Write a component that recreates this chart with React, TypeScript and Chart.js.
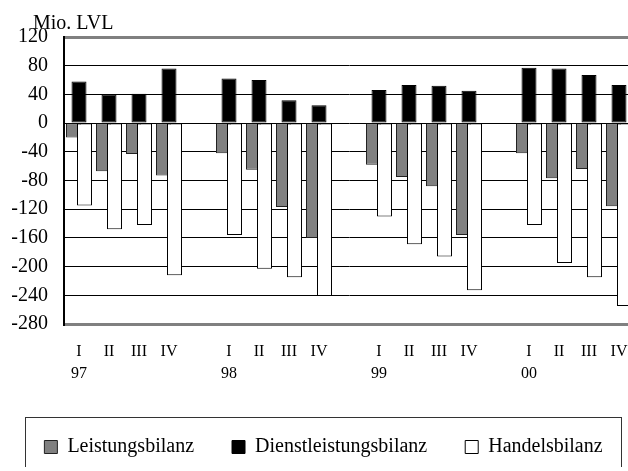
import React, { useEffect, useRef } from 'react';
import { Chart, registerables } from 'chart.js';

Chart.register(...registerables);

const years = ['97', '98', '99', '00'];
const quarters = ['I', 'II', 'III', 'IV'];
const leistungsbilanz = [-20, -67, -43, -73, -42, -65, -117, -160, -58, -75, -88, -156, -42, -77, -64, -116];
const dienstleistungsbilanz = [58, 40, 41, 76, 62, 60, 32, 25, 46, 53, 52, 45, 77, 76, 67, 53];
const handelsbilanz = [-115, -148, -142, -212, -156, -203, -215, -241, -130, -169, -186, -233, -142, -195, -215, -255];
const yMin = -280;
const yMax = 120;
const yStep = 40;
const unitLabel = 'Mio. LVL';
const seriesNames = ['Leistungsbilanz', 'Dienstleistungsbilanz', 'Handelsbilanz'];

const FONT = "'Liberation Serif', 'Times New Roman', serif";

function withGaps<T>(values: T[], gap: T): T[] {
  const out: T[] = [];
  years.forEach((_, yi) => {
    quarters.forEach((_, qi) => out.push(values[yi * quarters.length + qi]));
    if (yi < years.length - 1) out.push(gap);
  });
  return out;
}

const quarterLabels: (string | string[])[] = [];
years.forEach((y) => quarters.forEach((q, qi) => quarterLabels.push(qi === 0 ? [q, y] : q)));
const labels = withGaps<string | string[]>(quarterLabels, '');

// Draw datasets in index order so later series (white bars) lie on top of earlier ones
const drawOrderPlugin = {
  id: 'drawOrder',
  beforeDatasetDraw() {
    return false;
  },
  afterDatasetsDraw(chart: any) {
    const ctx = chart.ctx;
    const area = chart.chartArea;
    for (let i = 0; i < chart.data.datasets.length; i++) {
      const meta = chart.getDatasetMeta(i);
      if (!meta.visible) continue;
      ctx.save();
      ctx.beginPath();
      ctx.rect(area.left, area.top - 2, area.right - area.left, area.bottom - area.top + 4);
      ctx.clip();
      meta.controller.draw();
      ctx.restore();
    }
  },
};

const decorPlugin = {
  id: 'decor',
  afterDraw(chart: any) {
    const ctx = chart.ctx;
    ctx.save();
    ctx.font = `20px ${FONT}`;
    ctx.fillStyle = '#000';
    ctx.textBaseline = 'alphabetic';
    ctx.textAlign = 'left';
    ctx.fillText(unitLabel, 33, 29);
    ctx.strokeStyle = '#333';
    ctx.lineWidth = 1;
    ctx.strokeRect(25.5, 417.5, 596, 120);
    ctx.restore();
  },
};

export default function App() {
  const ref = useRef<HTMLCanvasElement | null>(null);
  useEffect(() => {
    if (!ref.current) return;
    const chart = new Chart(ref.current, {
      type: 'bar',
      data: {
        labels,
        datasets: [
          {
            label: seriesNames[0],
            data: withGaps<number | null>(leistungsbilanz, null),
            backgroundColor: '#808080',
            borderColor: '#222',
            borderWidth: 1,
            borderSkipped: false,
          },
          {
            label: seriesNames[1],
            data: withGaps<number | null>(dienstleistungsbilanz, null),
            backgroundColor: '#000',
            borderColor: '#000',
            borderWidth: 1,
            borderSkipped: false,
          },
          {
            label: seriesNames[2],
            data: withGaps<number | null>(handelsbilanz, null),
            backgroundColor: '#fff',
            borderColor: '#000',
            borderWidth: 1,
            borderSkipped: false,
          },
        ],
      },
      options: {
        responsive: false,
        animation: false,
        devicePixelRatio: 1,
        layout: { padding: { left: 0, top: 37, right: 0, bottom: 0 } },
        datasets: {
          bar: { categoryPercentage: 0.55, barPercentage: 2.727 },
        },
        scales: {
          x: {
            grid: { display: false, drawTicks: false },
            border: { display: true, color: '#808080', width: 3 },
            ticks: {
              autoSkip: false,
              maxRotation: 0,
              padding: 17,
              color: '#000',
              font: { family: FONT, size: 16, lineHeight: 1.375 },
            },
            afterFit: (scale: any) => {
              scale.height = 75;
            },
          },
          y: {
            min: yMin,
            max: yMax,
            ticks: {
              stepSize: yStep,
              padding: 16,
              color: '#000',
              font: { family: FONT, size: 20 },
            },
            grid: {
              drawTicks: false,
              color: (c: any) => (c.tick && (c.tick.value === yMax || c.tick.value === yMin) ? '#808080' : '#000'),
              lineWidth: (c: any) => (c.tick && (c.tick.value === yMax || c.tick.value === yMin) ? 3 : 1),
            },
            border: { display: true, color: '#000', width: 2 },
            afterFit: (scale: any) => {
              scale.width = 64;
            },
          },
          yRight: {
            position: 'right',
            display: true,
            grid: { display: false, drawTicks: false },
            border: { display: false },
            ticks: { display: false },
            afterFit: (scale: any) => {
              scale.width = 13;
            },
          },
        },
        plugins: {
          legend: {
            position: 'bottom',
            labels: {
              boxWidth: 13,
              boxHeight: 13,
              padding: 38,
              color: '#000',
              font: { family: FONT, size: 20 },
            },
          },
          tooltip: { enabled: false },
        },
      },
      plugins: [drawOrderPlugin, decorPlugin],
    });
    return () => chart.destroy();
  }, []);
  return (
    <div
      style={{
        position: 'fixed',
        left: 0,
        top: 0,
        width: 628,
        height: 471,
        overflow: 'hidden',
        background: '#fff',
      }}
    >
      <canvas ref={ref} width={647} height={467} style={{ display: 'block', width: 647, height: 467 }} />
    </div>
  );
}
